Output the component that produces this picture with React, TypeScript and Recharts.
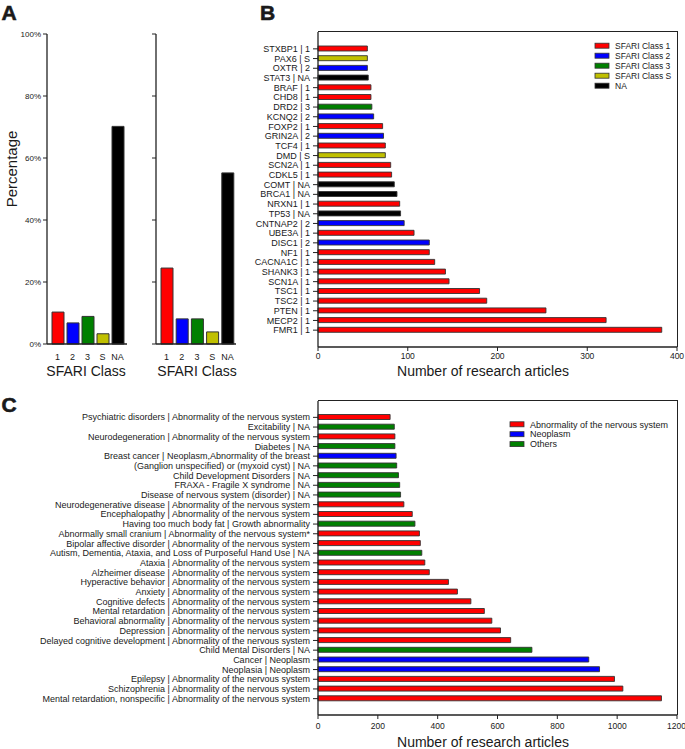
import React from 'react';
import { BarChart, Bar, XAxis, YAxis, Cell } from 'recharts';

const FONT = '"Liberation Sans", Arial, Helvetica, sans-serif';
const INK = '#1a1a1a';
const AXIS = { stroke: '#222', strokeWidth: 1.3 };

// Panel A: share of genes per SFARI class
const classLabels = ['1', '2', '3', 'S', 'NA'];
const classColors = ['#ff0000', '#0000ff', '#008000', '#c0c000', '#000000'];
const pctAll = [10.3, 6.8, 8.9, 3.3, 70.2];
const pctTop = [24.5, 8.1, 8.1, 3.9, 55.2];
const pctTicks = [0, 20, 40, 60, 80, 100];

// Panel B: genes (top to bottom)
const genes = [
  'STXBP1', 'PAX6', 'OXTR', 'STAT3', 'BRAF', 'CHD8', 'DRD2', 'KCNQ2', 'FOXP2', 'GRIN2A',
  'TCF4', 'DMD', 'SCN2A', 'CDKL5', 'COMT', 'BRCA1', 'NRXN1', 'TP53', 'CNTNAP2', 'UBE3A',
  'DISC1', 'NF1', 'CACNA1C', 'SHANK3', 'SCN1A', 'TSC1', 'TSC2', 'PTEN', 'MECP2', 'FMR1',
];
const geneClass = [
  '1', 'S', '2', 'NA', '1', '1', '3', '2', '1', '2',
  '1', 'S', '1', '1', 'NA', 'NA', '1', 'NA', '2', '1',
  '2', '1', '1', '1', '1', '1', '1', '1', '1', '1',
];
const geneArticles = [
  55, 55, 55, 56, 59, 59, 60, 62, 72, 73,
  75, 75, 81, 82, 85, 88, 91, 92, 96, 107,
  124, 124, 130, 142, 146, 180, 188, 254, 321, 383,
];
const geneTicks = [0, 100, 200, 300, 400];
const geneLegend = ['SFARI Class 1', 'SFARI Class 2', 'SFARI Class 3', 'SFARI Class S', 'NA'];

// Panel C: phenotypes (top to bottom)
const phenoNames = [
  'Psychiatric disorders', 'Excitability', 'Neurodegeneration', 'Diabetes', 'Breast cancer',
  '(Ganglion unspecified) or (myxoid cyst)', 'Child Development Disorders', 'FRAXA - Fragile X syndrome',
  'Disease of nervous system (disorder)', 'Neurodegenerative disease', 'Encephalopathy',
  'Having too much body fat', 'Abnormally small cranium', 'Bipolar affective disorder',
  'Autism, Dementia, Ataxia, and Loss of Purposeful Hand Use', 'Ataxia', 'Alzheimer disease',
  'Hyperactive behavior', 'Anxiety', 'Cognitive defects', 'Mental retardation', 'Behavioral abnormality',
  'Depression', 'Delayed cognitive development', 'Child Mental Disorders', 'Cancer', 'Neoplasia',
  'Epilepsy', 'Schizophrenia', 'Mental retardation, nonspecific',
];
const NERV = 'Abnormality of the nervous system';
const phenoAnnot = [
  NERV, 'NA', NERV, 'NA', 'Neoplasm,Abnormality of the breast',
  'NA', 'NA', 'NA', 'NA', NERV, NERV,
  'Growth abnormality', NERV + '*', NERV,
  'NA', NERV, NERV,
  NERV, NERV, NERV, NERV, NERV,
  NERV, NERV, 'NA', 'Neoplasm', 'Neoplasm',
  NERV, NERV, NERV,
];
// 0 = nervous system, 1 = neoplasm, 2 = others
const phenoGroup = [
  0, 2, 0, 2, 1, 2, 2, 2, 2, 0,
  0, 2, 0, 0, 2, 0, 0, 0, 0, 0,
  0, 0, 0, 0, 2, 1, 1, 0, 0, 0,
];
const phenoArticles = [
  241, 255, 257, 257, 261, 263, 269, 273, 276, 287,
  315, 324, 339, 342, 347, 357, 372, 436, 466, 511,
  556, 581, 610, 644, 715, 905, 941, 991, 1019, 1148,
];
const phenoTicks = [0, 200, 400, 600, 800, 1000, 1200];
const groupColors = ['#ff0000', '#0000ff', '#008000'];
const phenoLegend = ['Abnormality of the nervous system', 'Neoplasm', 'Others'];

const colorOfClass = (c: string) => classColors[classLabels.indexOf(c)];

const dataAll = classLabels.map((c, i) => ({ cls: c, pct: pctAll[i] }));
const dataTop = classLabels.map((c, i) => ({ cls: c, pct: pctTop[i] }));
const geneData = genes.map((g, i) => ({ label: `${g} | ${geneClass[i]}`, n: geneArticles[i], color: colorOfClass(geneClass[i]) }));
const phenoData = phenoNames.map((p, i) => ({ label: `${p} | ${phenoAnnot[i]}`, n: phenoArticles[i], color: groupColors[phenoGroup[i]] }));

const tickStyle = (size: number) => ({ fontSize: size, fill: INK, fontFamily: FONT });

// single-line category label (the default tick wraps long text)
const CategoryTick = (props: any) => {
  const { x, y, payload } = props;
  return (
    <text x={x} y={y} dy="0.34em" textAnchor="end" fontSize={9} fill={INK} fontFamily={FONT}>
      {payload.value}
    </text>
  );
};

function PercentPanel({ data, showLabels, width, yWidth, marginRight, padding }: {
  data: { cls: string; pct: number }[]; showLabels: boolean; width: number; yWidth: number; marginRight: number;
  padding: { left: number; right: number };
}) {
  return (
    <BarChart width={width} height={366} data={data} margin={{ top: 34, right: marginRight, left: 0, bottom: 0 }} barCategoryGap={2}>
      <XAxis dataKey="cls" height={22} tick={tickStyle(9)} tickLine={false} tickSize={6} tickMargin={4} axisLine={AXIS} padding={padding} interval={0} />
      <YAxis
        type="number"
        domain={[0, 100]}
        ticks={pctTicks}
        width={yWidth}
        tick={tickStyle(8)}
        tickFormatter={(v) => (showLabels ? `${v}%` : '')}
        tickSize={4}
        tickMargin={2}
        tickLine={{ stroke: '#222' }}
        axisLine={AXIS}
      />
      <Bar dataKey="pct" barSize={12} stroke="#333" strokeWidth={1} isAnimationActive={false}>
        {data.map((d, i) => <Cell key={d.cls} fill={classColors[i]} />)}
      </Bar>
    </BarChart>
  );
}

const MARGIN_RIGHT = 8;
const X_AXIS_H = 18;

type HLayout = { left: number; top: number; width: number; height: number; yWidth: number; marginTop: number };
const layoutB: HLayout = { left: 240, top: 0, width: 445, height: 365, yWidth: 78, marginTop: 32 };
const layoutC: HLayout = { left: 0, top: 385, width: 685, height: 348, yWidth: 318, marginTop: 16 };

function HBarPanel({ data, lay, max, ticks, tickMargin, yPad }: {
  data: { label: string; n: number; color: string }[]; lay: HLayout;
  max: number; ticks: number[]; tickMargin: number; yPad: { top: number; bottom: number };
}) {
  return (
    <BarChart width={lay.width} height={lay.height} data={data} layout="vertical" margin={{ top: lay.marginTop, right: MARGIN_RIGHT, left: 0, bottom: 0 }}>
      <XAxis type="number" domain={[0, max]} ticks={ticks} height={X_AXIS_H} tick={tickStyle(8.5)} tickSize={4} tickMargin={tickMargin} tickLine={{ stroke: '#222' }} axisLine={AXIS} />
      <YAxis type="category" dataKey="label" width={lay.yWidth} interval={0} tick={<CategoryTick />} tickSize={5} tickMargin={3} tickLine={{ stroke: '#222' }} axisLine={AXIS} padding={yPad} />
      <Bar dataKey="n" barSize={5} stroke="#333" strokeWidth={0.9} isAnimationActive={false}>
        {data.map((d) => <Cell key={d.label} fill={d.color} />)}
      </Bar>
    </BarChart>
  );
}

// top and right edges of a plot box, from the same layout numbers as the chart
function Frame({ lay }: { lay: HLayout }) {
  const x0 = lay.left + lay.yWidth;
  const x1 = lay.left + lay.width - MARGIN_RIGHT;
  const y0 = lay.top + lay.marginTop;
  const y1 = lay.top + lay.height - X_AXIS_H;
  return (
    <div
      style={{
        position: 'absolute',
        left: x0,
        top: y0 - 0.65,
        width: x1 - x0 + 0.65,
        height: y1 - y0 + 0.65,
        boxSizing: 'border-box',
        borderTop: '1.3px solid #222',
        borderRight: '1.3px solid #222',
        zIndex: 5,
        pointerEvents: 'none',
      }}
    />
  );
}

export default function App() {
  const box = (left: number, top: number): React.CSSProperties => ({ position: 'absolute', left, top });
  return (
    <div style={{ position: 'absolute', left: 0, top: 0, width: 685, height: 749, background: '#fff', fontFamily: FONT, overflow: 'hidden' }}>
      <div style={box(0, 0)}>
        <PercentPanel data={dataAll} showLabels width={130} yWidth={47} marginRight={3} padding={{ left: 3, right: 2 }} />
      </div>
      <div style={box(130, 0)}>
        <PercentPanel data={dataTop} showLabels={false} width={110} yWidth={26} marginRight={4} padding={{ left: 3, right: 1 }} />
      </div>
      <div style={box(layoutB.left, layoutB.top)}>
        <HBarPanel data={geneData} lay={layoutB} max={400} ticks={geneTicks} tickMargin={2} yPad={{ top: 12, bottom: 12 }} />
      </div>
      <div style={box(layoutC.left, layoutC.top)}>
        <HBarPanel data={phenoData} lay={layoutC} max={1200} ticks={phenoTicks} tickMargin={4} yPad={{ top: 11.5, bottom: 11.5 }} />
      </div>
      <Frame lay={layoutB} />
      <Frame lay={layoutC} />
      <svg width={685} height={749} style={{ position: 'absolute', left: 0, top: 0, pointerEvents: 'none' }} fontFamily={FONT} fill={INK}>
        <g fontSize={21} fontWeight={900} stroke={INK} strokeWidth={0.6}>
          <text x={1.5} y={20}>A</text>
          <text x={260} y={20}>B</text>
          <text x={1.5} y={412}>C</text>
        </g>
        <text transform="translate(17,169) rotate(-90)" textAnchor="middle" fontSize={15}>Percentage</text>
        <text x={86} y={376} textAnchor="middle" fontSize={14}>SFARI Class</text>
        <text x={197} y={376} textAnchor="middle" fontSize={14}>SFARI Class</text>
        <text x={483} y={376} textAnchor="middle" fontSize={14}>Number of research articles</text>
        <text x={483} y={747} textAnchor="middle" fontSize={14}>Number of research articles</text>
        {geneLegend.map((name, i) => (
          <g key={name}>
            <rect x={595} y={43.2 + i * 10} width={14} height={5} fill={classColors[i]} stroke="#333" strokeWidth={0.8} />
            <text x={615} y={48.8 + i * 10} fontSize={8.5}>{name}</text>
          </g>
        ))}
        {phenoLegend.map((name, i) => (
          <g key={name}>
            <rect x={510} y={421.8 + i * 9.9} width={14} height={5} fill={groupColors[i]} stroke="#333" strokeWidth={0.8} />
            <text x={530} y={427.5 + i * 9.9} fontSize={9}>{name}</text>
          </g>
        ))}
      </svg>
    </div>
  );
}
